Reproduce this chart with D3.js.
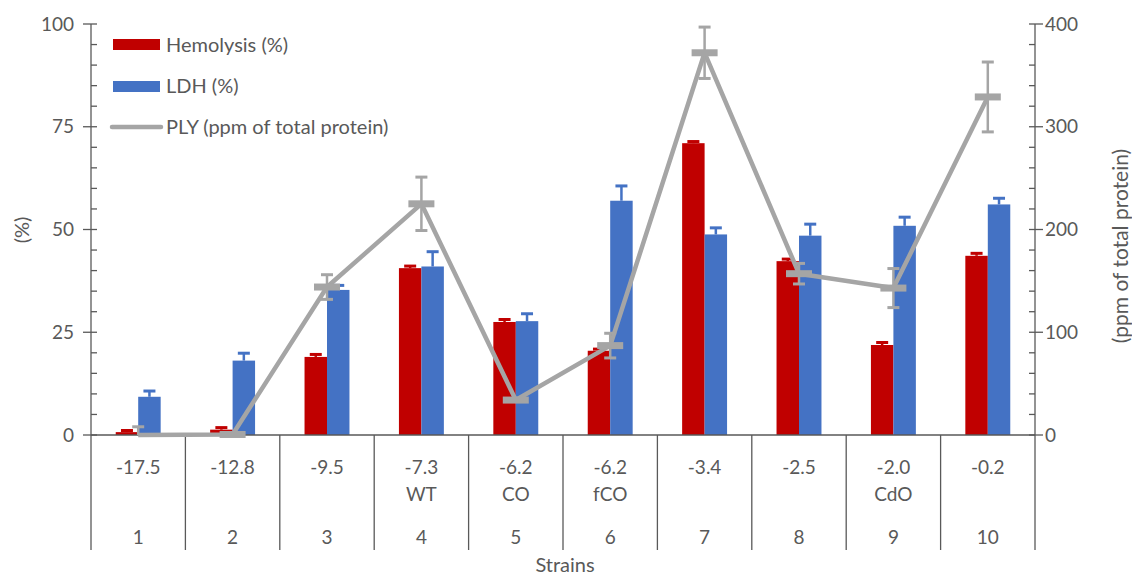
<!DOCTYPE html>
<html><head><meta charset="utf-8">
<script src="https://cdn.jsdelivr.net/npm/d3@7"></script>
<style>body{margin:0;background:#fff}svg{display:block}text{font-family:Lato,"Open Sans",sans-serif;fill:#595959}</style>
</head><body><svg id="c" width="1132" height="578"></svg>
<script>
const categories = ["1","2","3","4","5","6","7","8","9","10"];
const deltaG = ["-17.5","-12.8","-9.5","-7.3","-6.2","-6.2","-3.4","-2.5","-2.0","-0.2"];
const strainNames = ["","","","WT","CO","fCO","","","CdO",""];
const hemolysis = [0.7,1.3,19.0,40.6,27.5,20.5,71.0,42.3,21.9,43.6];
const hemolysisErr = [0.4,0.5,0.6,0.5,0.6,0.4,0.4,0.5,0.6,0.6];
const ldh = [9.3,18.1,35.3,41.0,27.7,57.0,48.8,48.5,50.9,56.1];
const ldhErr = [1.4,1.8,1.1,3.6,1.8,3.6,1.6,2.8,2.1,1.5];
const ply = [0,0.5,144,225,34,87,372,157,143,329];
const plyErr = [8,0,12,26,0,12,25,10,19,34];
const leftTicks = [0,25,50,75,100];
const rightTicks = [0,100,200,300,400];

const svg = d3.select("#c");
const X0 = 91, X1 = 1035, YT = 24, YB = 435;
const x = d3.scaleBand().domain(categories).range([X0, X1]).padding(0);
const yL = d3.scaleLinear().domain([0,100]).range([YB, YT]);
const yR = d3.scaleLinear().domain([0,400]).range([YB, YT]);
const axisCol = "#595959";
const red = "#C00000", blue = "#4472C4", gray = "#A5A5A5";
const bw = x.bandwidth()*0.238;

// bars
const g = svg.append("g");
categories.forEach((c,i)=>{
  const cx = x(c) + x.bandwidth()/2;
  g.append("rect").attr("x", cx-bw).attr("width", bw).attr("y", yL(hemolysis[i])).attr("height", YB - yL(hemolysis[i])).attr("fill", red);
  g.append("rect").attr("x", cx).attr("width", bw).attr("y", yL(ldh[i])).attr("height", YB - yL(ldh[i])).attr("fill", blue);
  const ex1 = cx - bw/2, ex2 = cx + bw/2;
  g.append("line").attr("x1",ex1).attr("x2",ex1).attr("y1",yL(hemolysis[i])).attr("y2",yL(hemolysis[i]+hemolysisErr[i])).attr("stroke",red).attr("stroke-width",2.5);
  g.append("line").attr("x1",ex1-6).attr("x2",ex1+6).attr("y1",yL(hemolysis[i]+hemolysisErr[i])).attr("y2",yL(hemolysis[i]+hemolysisErr[i])).attr("stroke",red).attr("stroke-width",3);
  g.append("line").attr("x1",ex2).attr("x2",ex2).attr("y1",yL(ldh[i])).attr("y2",yL(ldh[i]+ldhErr[i])).attr("stroke",blue).attr("stroke-width",2.5);
  g.append("line").attr("x1",ex2-6).attr("x2",ex2+6).attr("y1",yL(ldh[i]+ldhErr[i])).attr("y2",yL(ldh[i]+ldhErr[i])).attr("stroke",blue).attr("stroke-width",3);
});

// axes lines
svg.append("line").attr("x1",X0).attr("x2",X1).attr("y1",YB).attr("y2",YB).attr("stroke",axisCol).attr("stroke-width",1.3);
svg.append("line").attr("x1",X0).attr("x2",X0).attr("y1",YT).attr("y2",550).attr("stroke",axisCol).attr("stroke-width",1.3);
svg.append("line").attr("x1",X1).attr("x2",X1).attr("y1",YT).attr("y2",550).attr("stroke",axisCol).attr("stroke-width",1.3);
categories.forEach((c,i)=>{
  if(i>0) svg.append("line").attr("x1",x(c)).attr("x2",x(c)).attr("y1",YB).attr("y2",550).attr("stroke",axisCol).attr("stroke-width",1.3);
});
d3.range(0,101,5).forEach(v=>{
  const major = v%25===0;
  svg.append("line").attr("x1", major?X0-8:X0).attr("x2", X0+6).attr("y1",yL(v)).attr("y2",yL(v)).attr("stroke",axisCol).attr("stroke-width",1.3);
});
leftTicks.forEach(v=>{
  svg.append("text").attr("x",X0-17).attr("y",yL(v)).attr("dy","0.35em").attr("text-anchor","end").attr("font-size",19).text(v);
});
d3.range(0,401,20).forEach(v=>{
  const major = v%100===0;
  svg.append("line").attr("x1", X1-6).attr("x2", major?X1+8:X1).attr("y1",yR(v)).attr("y2",yR(v)).attr("stroke",axisCol).attr("stroke-width",1.3);
});
rightTicks.forEach(v=>{
  svg.append("text").attr("x",X1+10).attr("y",yR(v)).attr("dy","0.35em").attr("text-anchor","start").attr("font-size",19).text(v);
});
categories.forEach((c,i)=>{
  const cx = x(c) + x.bandwidth()/2;
  svg.append("text").attr("x",cx).attr("y",467).attr("dy","0.35em").attr("text-anchor","middle").attr("font-size",19).text(deltaG[i]);
  if(strainNames[i]) svg.append("text").attr("x",cx).attr("y",494).attr("dy","0.35em").attr("text-anchor","middle").attr("font-size",19).text(strainNames[i]);
  svg.append("text").attr("x",cx).attr("y",537).attr("dy","0.35em").attr("text-anchor","middle").attr("font-size",19).text(c);
});
svg.append("text").attr("x",565).attr("y",565).attr("dy","0.35em").attr("text-anchor","middle").attr("font-size",20).text("Strains");
svg.append("text").attr("transform","translate(22,230) rotate(-90)").attr("dy","0.35em").attr("text-anchor","middle").attr("font-size",20).text("(%)");
svg.append("text").attr("transform","translate(1121,246) rotate(-90)").attr("dy","0.35em").attr("text-anchor","middle").attr("font-size",21).text("(ppm of total protein)");

// PLY line
const pts = categories.map((c,i)=>[x(c)+x.bandwidth()/2, yR(ply[i])]);
svg.append("path").attr("d", d3.line()(pts)).attr("fill","none").attr("stroke",gray).attr("stroke-width",4.5).attr("stroke-linejoin","round");
categories.forEach((c,i)=>{
  const cx = pts[i][0];
  if(plyErr[i]>0){
    const lo = Math.max(0, ply[i]-plyErr[i]), hi = ply[i]+plyErr[i];
    svg.append("line").attr("x1",cx).attr("x2",cx).attr("y1",yR(lo)).attr("y2",yR(hi)).attr("stroke",gray).attr("stroke-width",2.5);
    svg.append("line").attr("x1",cx-6).attr("x2",cx+6).attr("y1",yR(hi)).attr("y2",yR(hi)).attr("stroke",gray).attr("stroke-width",3);
    if(ply[i]-plyErr[i]>0) svg.append("line").attr("x1",cx-6).attr("x2",cx+6).attr("y1",yR(lo)).attr("y2",yR(lo)).attr("stroke",gray).attr("stroke-width",3);
  }
  if(i>0) svg.append("rect").attr("x",cx-13).attr("y",pts[i][1]-3.5).attr("width",26).attr("height",7).attr("fill",gray);
});

// legend
const lg = svg.append("g");
lg.append("rect").attr("x",113).attr("y",39).attr("width",47).attr("height",11).attr("fill",red);
lg.append("text").attr("x",166).attr("y",45).attr("dy","0.35em").attr("font-size",20).text("Hemolysis (%)");
lg.append("rect").attr("x",113).attr("y",81).attr("width",47).attr("height",11).attr("fill",blue);
lg.append("text").attr("x",166).attr("y",86).attr("dy","0.35em").attr("font-size",20).text("LDH (%)");
lg.append("line").attr("x1",112).attr("x2",161).attr("y1",127).attr("y2",127).attr("stroke",gray).attr("stroke-width",4.5).attr("stroke-linecap","round");
lg.append("text").attr("x",166).attr("y",127).attr("dy","0.35em").attr("font-size",20).text("PLY (ppm of total protein)");
</script></body></html>
